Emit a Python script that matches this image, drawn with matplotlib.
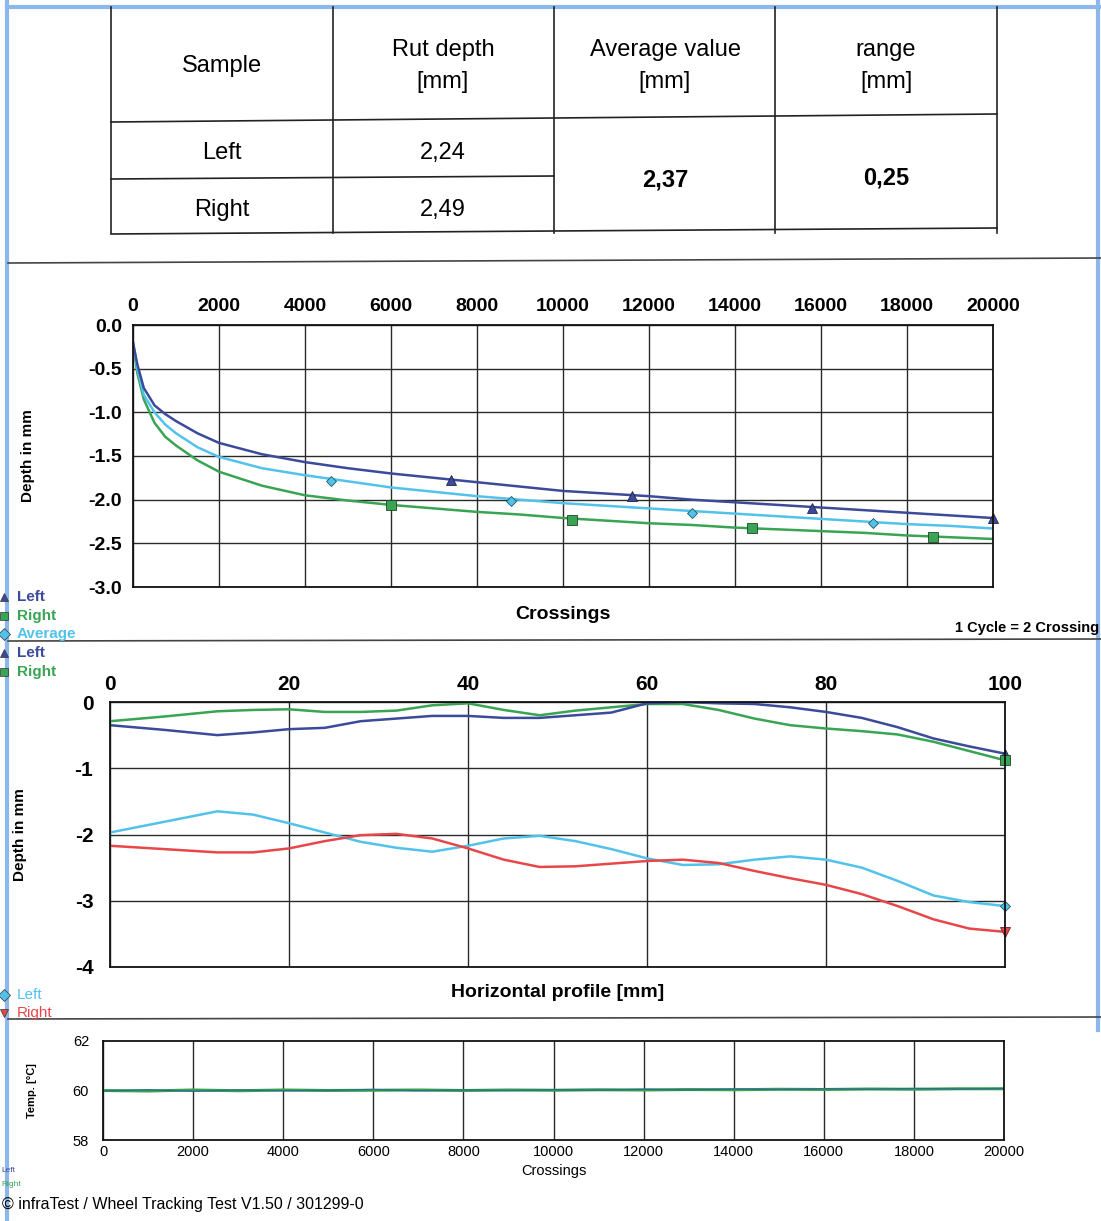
import numpy as np
import matplotlib
matplotlib.use('Agg')
import matplotlib.pyplot as plt

plt.rcParams['font.family'] = ['Liberation Sans', 'DejaVu Sans']
plt.rcParams['axes.unicode_minus'] = False

# ---- table data ----
header_labels = ['Sample', 'Rut depth\n[mm]', 'Average value\n[mm]', 'range\n[mm]']
samples = ['Left', 'Right']
rut_depth = ['2,24', '2,49']
avg_value = '2,37'
range_value = '0,25'

# ---- rut depth vs crossings ----
crossings = [0, 100, 250, 500, 750, 1000, 1500, 2000, 3000, 4000, 5000, 6000, 7000, 8000,
             9000, 10000, 11000, 12000, 13000, 14000, 15000, 16000, 17000, 18000, 19000, 20000]
depth_left = [-0.20, -0.45, -0.72, -0.92, -1.02, -1.10, -1.24, -1.35, -1.48, -1.57, -1.64, -1.70, -1.75,
              -1.80, -1.85, -1.90, -1.93, -1.96, -2.00, -2.03, -2.06, -2.09, -2.12, -2.15, -2.18, -2.21]
depth_right = [-0.20, -0.55, -0.85, -1.12, -1.28, -1.38, -1.55, -1.68, -1.84, -1.95, -2.01, -2.06, -2.10,
               -2.14, -2.17, -2.21, -2.24, -2.27, -2.29, -2.32, -2.34, -2.36, -2.38, -2.41, -2.43, -2.45]
depth_avg = [-0.20, -0.50, -0.80, -1.00, -1.14, -1.24, -1.40, -1.51, -1.64, -1.72, -1.79, -1.86, -1.91,
             -1.96, -2.00, -2.04, -2.07, -2.10, -2.13, -2.16, -2.19, -2.22, -2.25, -2.28, -2.30, -2.33]
mark_left_x = [7400, 11600, 15800, 20000]
mark_left_y = [-1.78, -1.96, -2.10, -2.21]
mark_right_x = [6000, 10200, 14400, 18600]
mark_right_y = [-2.06, -2.23, -2.33, -2.43]
mark_avg_x = [4600, 8800, 13000, 17200]
mark_avg_y = [-1.79, -2.01, -2.15, -2.27]

# ---- horizontal profile ----
profile_x = [0, 6, 12, 16, 20, 24, 28, 32, 36, 40, 44, 48, 52, 56, 60, 64, 68, 72, 76, 80, 84, 88, 92, 96, 100]
prof_left_before = [-0.35, -0.42, -0.50, -0.46, -0.41, -0.39, -0.29, -0.25, -0.21, -0.21, -0.24, -0.24, -0.20,
                    -0.16, -0.02, 0.00, -0.02, -0.03, -0.08, -0.15, -0.24, -0.38, -0.55, -0.67, -0.78]
prof_right_before = [-0.29, -0.22, -0.14, -0.12, -0.11, -0.15, -0.15, -0.13, -0.05, -0.02, -0.12, -0.20, -0.13,
                     -0.08, -0.03, -0.03, -0.12, -0.25, -0.35, -0.40, -0.44, -0.49, -0.60, -0.74, -0.88]
prof_left_after = [-1.97, -1.81, -1.65, -1.70, -1.83, -1.97, -2.11, -2.20, -2.26, -2.17, -2.06, -2.02, -2.10,
                   -2.22, -2.36, -2.46, -2.45, -2.38, -2.33, -2.38, -2.50, -2.70, -2.92, -3.02, -3.08]
prof_right_after = [-2.17, -2.22, -2.27, -2.27, -2.21, -2.10, -2.01, -1.99, -2.06, -2.21, -2.38, -2.49, -2.48,
                    -2.44, -2.40, -2.38, -2.43, -2.55, -2.66, -2.76, -2.90, -3.08, -3.28, -3.42, -3.47]

# ---- temperature ----
temp_x = [0, 1000, 2000, 3000, 4000, 5000, 6000, 7000, 8000, 9000, 10000,
          11000, 12000, 13000, 14000, 15000, 16000, 17000, 18000, 19000, 20000]
temp_left = [59.98, 60.03, 59.97, 60.02, 59.99, 60.01, 60.04, 59.99, 60.02, 60.00, 60.03,
             60.01, 60.05, 60.02, 60.06, 60.04, 60.07, 60.05, 60.08, 60.06, 60.08]
temp_right = [60.00, 59.98, 60.02, 59.99, 60.02, 60.00, 60.01, 60.02, 60.00, 60.02, 60.01,
              60.03, 60.02, 60.04, 60.03, 60.05, 60.04, 60.06, 60.05, 60.07, 60.07]

c_left = '#3b4a9a'
c_right = '#38a454'
c_avg = '#52c2ea'
c_red = '#e8474a'
c_teal = '#2e6f84'
c_frame = '#8db6ea'
c_grid = '#2a2a2a'

W, H = 1101, 1221
fig = plt.figure(figsize=(W / 100, H / 100), dpi=100)
fig.patch.set_facecolor('white')

bg = fig.add_axes([0, 0, 1, 1])
bg.set_xlim(0, W)
bg.set_ylim(H, 0)
bg.axis('off')

# page frame
bg.plot([7, 7], [0, H], color=c_frame, lw=3)
bg.plot([7, W], [7, 7], color=c_frame, lw=3)
bg.plot([1098, 1098], [0, 1030], color=c_frame, lw=3)

# separators
bg.plot([8, W], [263, 258], color='#444444', lw=1.2)
bg.plot([8, W], [641, 639], color='#444444', lw=1.2)
bg.plot([8, W], [1019, 1017], color='#444444', lw=1.2)

# table
tl, tr = 111, 997
cols = [111, 333, 554, 775, 997]
for x in cols:
    bg.plot([x, x], [7, 233], color='#222222', lw=1.2)
bg.plot([tl, tr], [122, 114], color='#222222', lw=1.2)
bg.plot([tl, 554], [179, 176], color='#222222', lw=1.2)
bg.plot([tl, tr], [234, 228], color='#222222', lw=1.2)
centers = [222, 443, 665, 886]
for cx, lab in zip(centers, header_labels):
    bg.text(cx, 66, lab, ha='center', va='center', fontsize=17, linespacing=1.55)
for i, s in enumerate(samples):
    yy = [153, 210][i]
    bg.text(222, yy, s, ha='center', va='center', fontsize=17)
    bg.text(443, yy, rut_depth[i], ha='center', va='center', fontsize=17)
bg.text(665, 180, avg_value, ha='center', va='center', fontsize=17, fontweight='bold')
bg.text(886, 178, range_value, ha='center', va='center', fontsize=17, fontweight='bold')

# legends on the left margin
leg1 = [('Left', c_left, '^', 597), ('Right', c_right, 's', 616), ('Average', c_avg, 'D', 634),
        ('Left', c_left, '^', 653), ('Right', c_right, 's', 672)]
for lab, col, mk, yy in leg1:
    bg.plot([4], [yy], marker=mk, color=col, ms=6, mec='#333333', mew=0.5, clip_on=False)
    bg.text(17, yy, lab, color=col, fontsize=11, fontweight='bold', va='center')
leg3 = [('Left', c_avg, 'D', 995), ('Right', c_red, 'v', 1013)]
for lab, col, mk, yy in leg3:
    bg.plot([4], [yy], marker=mk, color=col, ms=6, mec='#333333', mew=0.5, clip_on=False)
    bg.text(17, yy, lab, color=col, fontsize=11, va='center')
bg.text(1, 1171, 'Left', color=c_left, fontsize=6, va='center')
bg.text(1, 1185, 'Right', color=c_right, fontsize=6, va='center')

bg.text(1099, 628, '1 Cycle = 2 Crossing', fontsize=10.5, fontweight='bold', va='center', ha='right')
bg.text(2, 1204, '\u00a9 infraTest / Wheel Tracking Test V1.50 / 301299-0', fontsize=11.5, va='center')


def style_grid(ax):
    ax.grid(True, color=c_grid, lw=1.0)
    for sp in ax.spines.values():
        sp.set_color('#111111')
        sp.set_linewidth(1.3)
    ax.tick_params(length=0)


# ---- chart 1: rut depth ----
ax1 = fig.add_axes([133 / W, 1 - 587 / H, 860 / W, 262 / H])
ax1.plot(crossings, depth_right, color=c_right, lw=1.8)
ax1.plot(crossings, depth_avg, color=c_avg, lw=1.8)
ax1.plot(crossings, depth_left, color=c_left, lw=1.8)
ax1.plot(mark_left_x, mark_left_y, ls='none', marker='^', ms=7, color=c_left, mec='#222244', mew=0.6, clip_on=False)
ax1.plot(mark_right_x, mark_right_y, ls='none', marker='s', ms=7, color=c_right, mec='#224422', mew=0.6, clip_on=False)
ax1.plot(mark_avg_x, mark_avg_y, ls='none', marker='D', ms=5.5, color=c_avg, mec='#225566', mew=0.6, clip_on=False)
ax1.set_xlim(0, 20000)
ax1.set_ylim(-3.0, 0.0)
ax1.set_xticks(range(0, 20001, 2000))
ax1.set_yticks([0.0, -0.5, -1.0, -1.5, -2.0, -2.5, -3.0])
ax1.set_yticklabels(['0.0', '-0.5', '-1.0', '-1.5', '-2.0', '-2.5', '-3.0'])
ax1.xaxis.tick_top()
style_grid(ax1)
ax1.tick_params(axis='x', labelsize=14, pad=7)
ax1.tick_params(axis='y', labelsize=14, pad=8)
for t in ax1.get_xticklabels() + ax1.get_yticklabels():
    t.set_fontweight('bold')
ax1.set_xlabel('Crossings', fontsize=14, fontweight='bold', labelpad=14)
ax1.set_ylabel('Depth in mm', fontsize=11, fontweight='bold', labelpad=38)

# ---- chart 2: horizontal profile ----
ax2 = fig.add_axes([110 / W, 1 - 967 / H, 895 / W, 265 / H])
ax2.plot(profile_x, prof_right_before, color=c_right, lw=1.8)
ax2.plot(profile_x, prof_left_before, color=c_left, lw=1.8)
ax2.plot(profile_x, prof_left_after, color=c_avg, lw=1.8)
ax2.plot(profile_x, prof_right_after, color=c_red, lw=1.8)
ax2.plot(profile_x[-1:], prof_left_before[-1:], marker='^', ms=7, color=c_left, mec='#222244', mew=0.6, clip_on=False)
ax2.plot(profile_x[-1:], prof_right_before[-1:], marker='s', ms=7, color=c_right, mec='#224422', mew=0.6, clip_on=False)
ax2.plot(profile_x[-1:], prof_left_after[-1:], marker='D', ms=5.5, color=c_avg, mec='#225566', mew=0.6, clip_on=False)
ax2.plot(profile_x[-1:], prof_right_after[-1:], marker='v', ms=7, color=c_red, mec='#662222', mew=0.6, clip_on=False)
ax2.set_xlim(0, 100)
ax2.set_ylim(-4, 0)
ax2.set_xticks([0, 20, 40, 60, 80, 100])
ax2.set_yticks([0, -1, -2, -3, -4])
ax2.xaxis.tick_top()
style_grid(ax2)
ax2.tick_params(axis='x', labelsize=15, pad=6)
ax2.tick_params(axis='y', labelsize=15, pad=12)
for t in ax2.get_xticklabels() + ax2.get_yticklabels():
    t.set_fontweight('bold')
ax2.set_xlabel('Horizontal profile [mm]', fontsize=14, fontweight='bold', labelpad=12)
ax2.set_ylabel('Depth in mm', fontsize=11, fontweight='bold', labelpad=34)

# ---- chart 3: temperature ----
ax3 = fig.add_axes([103 / W, 1 - 1140 / H, 901 / W, 99 / H])
ax3.plot(temp_x, temp_right, color=c_right, lw=2.2)
ax3.plot(temp_x, temp_left, color=c_teal, lw=1.0)
ax3.set_xlim(0, 20000)
ax3.set_ylim(58, 62)
ax3.set_xticks(range(0, 20001, 2000))
ax3.set_yticks([58, 60, 62])
ax3.grid(True, axis='x', color=c_grid, lw=1.0)
for sp in ax3.spines.values():
    sp.set_color('#111111')
    sp.set_linewidth(1.3)
ax3.tick_params(length=0, labelsize=10.5)
ax3.tick_params(axis='y', pad=10)
ax3.set_xlabel('Crossings', fontsize=10.5, labelpad=4)
ax3.set_ylabel('Temp. [\u00b0C]', fontsize=8, fontweight='bold', labelpad=26)

fig.savefig('out.png', dpi=100)
